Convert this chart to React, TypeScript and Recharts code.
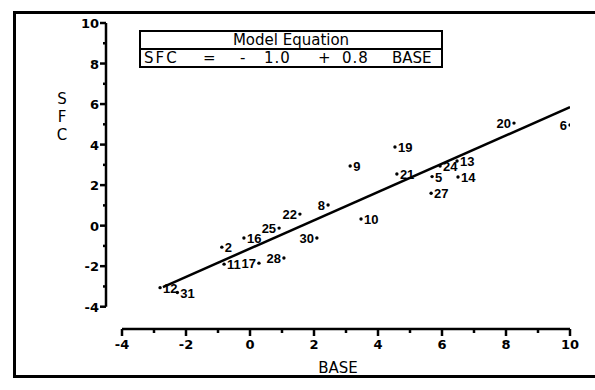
import { ComposedChart, Scatter, XAxis, YAxis, ReferenceLine } from 'recharts';

// observation ids with BASE / SFC readings
const pointIds = ['9', '10', '8', '22', '30', '25', '16', '2', '11', '17', '28', '12', '31', '19', '21', '5', '27', '24', '13', '14', '20', '6'];
const baseValues = [3.13, 3.47, 2.44, 1.56, 2.09, 0.91, -0.19, -0.88, -0.81, 0.28, 1.06, -2.81, -2.27, 4.53, 4.59, 5.69, 5.66, 5.94, 6.47, 6.5, 8.25, 10.0];
const sfcValues = [2.94, 0.33, 1.02, 0.57, -0.61, -0.12, -0.61, -1.06, -1.9, -1.85, -1.6, -3.06, -3.3, 3.88, 2.55, 2.42, 1.6, 2.94, 3.19, 2.4, 5.06, 4.97];
// ids whose label sits left of the dot
const labelOnLeft = ['8', '22', '30', '25', '17', '28', '20', '6'];

// fitted line end points as drawn
const fitBase = [-2.72, 10.0];
const fitSfc = [-3.03, 5.85];

const axisTicks = [-4, -3, -2, -1, 0, 1, 2, 3, 4, 5, 6, 7, 8, 9, 10];

const points = pointIds.map((id, i) => ({ id, x: baseValues[i], y: sfcValues[i] }));
const fit = fitBase.map((x, i) => ({ x, y: fitSfc[i] }));

const font = '"DejaVu Sans", sans-serif';
const labelFont = '"Liberation Sans", Arial, sans-serif';

function PointMark(props: any) {
  const { cx, cy, payload } = props;
  const left = labelOnLeft.includes(payload.id);
  return (
    <g>
      <circle cx={cx} cy={cy} r={1.7} fill="#000" />
      <text
        x={left ? cx - 3 : cx + 3}
        y={cy + 5}
        textAnchor={left ? 'end' : 'start'}
        fontFamily={labelFont}
        fontWeight="bold"
        fontSize={13}
        fill="#000"
      >
        {payload.id}
      </text>
    </g>
  );
}

function XTick({ x, y, payload }: any) {
  const v = payload.value;
  const major = v % 2 === 0;
  return (
    <g>
      <line x1={x} y1={y} x2={x} y2={y + (major ? 7 : 4)} stroke="#000" strokeWidth={2.5} />
      {major && (
        <text x={x} y={y + 20} textAnchor="middle" fontFamily={font} fontWeight="bold" fontSize={13} fill="#000">
          {v}
        </text>
      )}
    </g>
  );
}

function YTick({ x, y, payload }: any) {
  const v = payload.value;
  const major = v % 2 === 0;
  return (
    <g>
      <line x1={x - (major ? 6 : 3)} y1={y} x2={x} y2={y} stroke="#000" strokeWidth={2.5} />
      {major && (
        <text x={x - 7} y={y + 5} textAnchor="end" fontFamily={font} fontWeight="bold" fontSize={13} fill="#000">
          {v}
        </text>
      )}
    </g>
  );
}

export default function App() {
  return (
    <div style={{ position: 'absolute', left: 0, top: 0, width: 595, height: 390, overflow: 'hidden', background: '#fff' }}>
      <div
        style={{
          position: 'absolute',
          left: 13,
          top: 11,
          width: 700,
          height: 361,
          border: '3px solid #000',
        }}
      />
      <div style={{ position: 'absolute', left: 0, top: 0 }}>
        <ComposedChart width={595} height={390} margin={{ top: 23, right: 25, bottom: 17, left: 46 }}>
          <XAxis
            type="number"
            dataKey="x"
            domain={[-4.5, 10]}
            allowDataOverflow
            ticks={axisTicks}
            interval={0}
            axisLine={false}
            tickLine={false}
            tickSize={0}
            tickMargin={0}
            height={44}
            tick={<XTick />}
            label={{ value: 'BASE', position: 'insideBottom', offset: 0, fill: '#000', fontFamily: font, fontSize: 15 }}
          />
          <YAxis
            type="number"
            dataKey="y"
            domain={[-5.1, 10]}
            allowDataOverflow
            ticks={axisTicks}
            interval={0}
            axisLine={false}
            tickLine={false}
            tickSize={0}
            tickMargin={0}
            width={60}
            tick={<YTick />}
          />
          <ReferenceLine
            segment={[{ x: -4.5, y: -4 }, { x: -4.5, y: 10 }]}
            stroke="#000"
            strokeWidth={2.5}
            ifOverflow="visible"
          />
          <ReferenceLine
            segment={[{ x: -4, y: -5.1 }, { x: 10, y: -5.1 }]}
            stroke="#000"
            strokeWidth={2.5}
            ifOverflow="visible"
          />
          <Scatter
            data={fit}
            line={{ stroke: '#000', strokeWidth: 2.5 }}
            shape={() => <g />}
            isAnimationActive={false}
          />
          <Scatter data={points} shape={<PointMark />} isAnimationActive={false} />
        </ComposedChart>
      </div>

      {/* stacked y-axis title */}
      <div
        style={{
          position: 'absolute',
          left: 54,
          top: 90,
          width: 16,
          fontFamily: font,
          fontSize: 15,
          lineHeight: '18px',
          textAlign: 'center',
          color: '#000',
        }}
      >
        S<br />F<br />C
      </div>

      {/* model equation box */}
      <div
        style={{
          position: 'absolute',
          left: 139,
          top: 30,
          width: 300,
          height: 34,
          border: '2px solid #000',
          fontFamily: font,
          fontSize: 15,
          color: '#000',
        }}
      >
        <div style={{ height: 16, borderBottom: '2px solid #000', textAlign: 'center', lineHeight: '17px' }}>
          Model Equation
        </div>
        <div style={{ position: 'relative', height: 16, lineHeight: '17px' }}>
          <span style={{ position: 'absolute', left: 3, letterSpacing: 2 }}>SFC</span>
          <span style={{ position: 'absolute', left: 62 }}>=</span>
          <span style={{ position: 'absolute', left: 99 }}>-</span>
          <span style={{ position: 'absolute', left: 123, letterSpacing: 1 }}>1.0</span>
          <span style={{ position: 'absolute', left: 177 }}>+</span>
          <span style={{ position: 'absolute', left: 201, letterSpacing: 1 }}>0.8</span>
          <span style={{ position: 'absolute', left: 251 }}>BASE</span>
        </div>
      </div>
    </div>
  );
}
